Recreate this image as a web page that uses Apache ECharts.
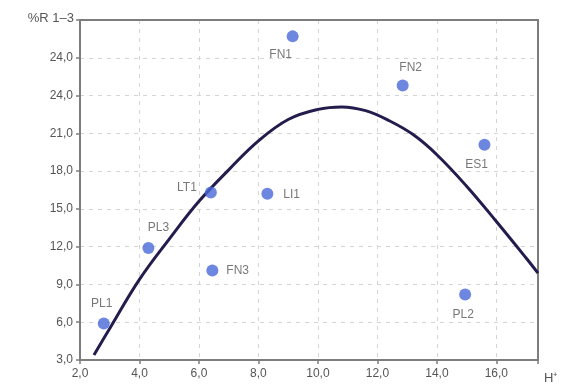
<!DOCTYPE html>
<html>
<head>
<meta charset="utf-8">
<script src="https://cdn.jsdelivr.net/npm/echarts@6/dist/echarts.min.js"></script>
<style>
  html, body { margin: 0; padding: 0; background: #fff; }
  #chart { width: 569px; height: 386px; }
</style>
</head>
<body>
<div id="chart"></div>
<script>
// Sample sites
const siteNames = ['PL1', 'PL3', 'LT1', 'FN3', 'LI1', 'FN1', 'FN2', 'ES1', 'PL2'];
const siteH = [2.8, 4.3, 6.4, 6.45, 8.3, 9.15, 12.85, 15.6, 14.95];
const siteR = [5.9, 11.9, 16.3, 10.1, 16.2, 28.7, 24.8, 20.1, 8.2];

// Fitted response curve
const curveH = [2.47, 3, 4, 5, 6, 7, 8, 9, 10, 10.8, 11.6, 12.4, 13.2, 14, 15, 16, 17, 17.4];
const curveR = [3.4, 5.5, 9.4, 12.6, 15.6, 18.1, 20.4, 22.1, 22.9, 23.1, 22.8, 22.0, 20.9, 19.3, 16.8, 14.0, 11.1, 9.9];

// Tick labels
const xTickLabels = ['2,0', '4,0', '6,0', '8,0', '10,0', '12,0', '14,0', '16,0'];
const yTickLabels = ['3,0', '6,0', '9,0', '12,0', '15,0', '18,0', '21,0', '24,0', '24,0', ''];

// Label placement for each site
const labelPos = {
  PL1: { position: 'top', offset: [-2, -2] },
  PL3: { position: 'top', offset: [10, -2] },
  LT1: { position: 'left', offset: [-2, -5] },
  FN3: { position: 'right', offset: [2, 0] },
  LI1: { position: 'right', offset: [4, 1] },
  FN1: { position: 'bottom', offset: [-12, 0] },
  FN2: { position: 'top', offset: [8, 0] },
  ES1: { position: 'bottom', offset: [-8, 2] },
  PL2: { position: 'bottom', offset: [-2, 2] }
};

const textColor = '#555';
const axisColor = '#7d7d7d';
const gridDash = { color: '#d4d4d4', type: [4, 5], width: 1 };

const chart = echarts.init(document.getElementById('chart'));
chart.setOption({
  animation: false,
  backgroundColor: '#fff',
  textStyle: { fontFamily: 'Liberation Sans, Arial, sans-serif' },
  grid: {
    left: 80, right: 31, top: 20, bottom: 26,
    show: false
  },
  xAxis: [{
    type: 'value',
    min: 2, max: 17.4, interval: 2,
    name: 'H⁺',
    nameLocation: 'end',
    nameGap: 6,
    nameTextStyle: { color: textColor, fontSize: 13, align: 'left', verticalAlign: 'top', padding: [12, 0, 0, 0] },
    axisLine: { show: true, lineStyle: { color: axisColor, width: 2 } },
    axisTick: { show: true, length: 4, lineStyle: { color: axisColor, width: 1.5 } },
    axisLabel: {
      color: textColor, fontSize: 12, margin: 8,
      formatter: v => xTickLabels[Math.round((v - 2) / 2)] ?? ''
    },
    splitLine: { show: true, showMinLine: false, showMaxLine: false, lineStyle: gridDash }
  }, {
    // top frame edge
    type: 'value', position: 'top', min: 2, max: 17.4,
    axisLine: { show: true, onZero: false, lineStyle: { color: axisColor, width: 2 } },
    axisTick: { show: false }, axisLabel: { show: false }, splitLine: { show: false }
  }],
  yAxis: [{
    type: 'value',
    min: 3, max: 30, interval: 3,
    name: '%R 1–3',
    nameLocation: 'end',
    nameGap: 2,
    nameTextStyle: { color: textColor, fontSize: 13, align: 'right', verticalAlign: 'middle', padding: [0, 6, 0, 0] },
    axisLine: { show: true, lineStyle: { color: axisColor, width: 2 } },
    axisTick: { show: true, length: 4, lineStyle: { color: axisColor, width: 1.5 } },
    axisLabel: {
      color: textColor, fontSize: 12, margin: 7,
      formatter: v => yTickLabels[Math.round((v - 3) / 3)] ?? ''
    },
    splitLine: { show: true, showMinLine: false, showMaxLine: false, lineStyle: gridDash }
  }, {
    // right frame edge
    type: 'value', position: 'right', min: 3, max: 30,
    axisLine: { show: true, onZero: false, lineStyle: { color: axisColor, width: 2 } },
    axisTick: { show: false }, axisLabel: { show: false }, splitLine: { show: false }
  }],
  series: [
    {
      type: 'line',
      data: curveH.map((h, i) => [h, curveR[i]]),
      smooth: 0.4,
      showSymbol: false,
      lineStyle: { color: '#231c4c', width: 3 },
      z: 2
    },
    {
      type: 'scatter',
      symbolSize: 12,
      itemStyle: { color: '#4868d8' },
      data: siteNames.map((n, i) => ({
        value: [siteH[i], siteR[i]],
        name: n,
        label: Object.assign({
          show: true,
          formatter: n,
          color: textColor,
          fontSize: 12,
          distance: 6
        }, labelPos[n])
      })),
      z: 3
    }
  ]
});
</script>
</body>
</html>
